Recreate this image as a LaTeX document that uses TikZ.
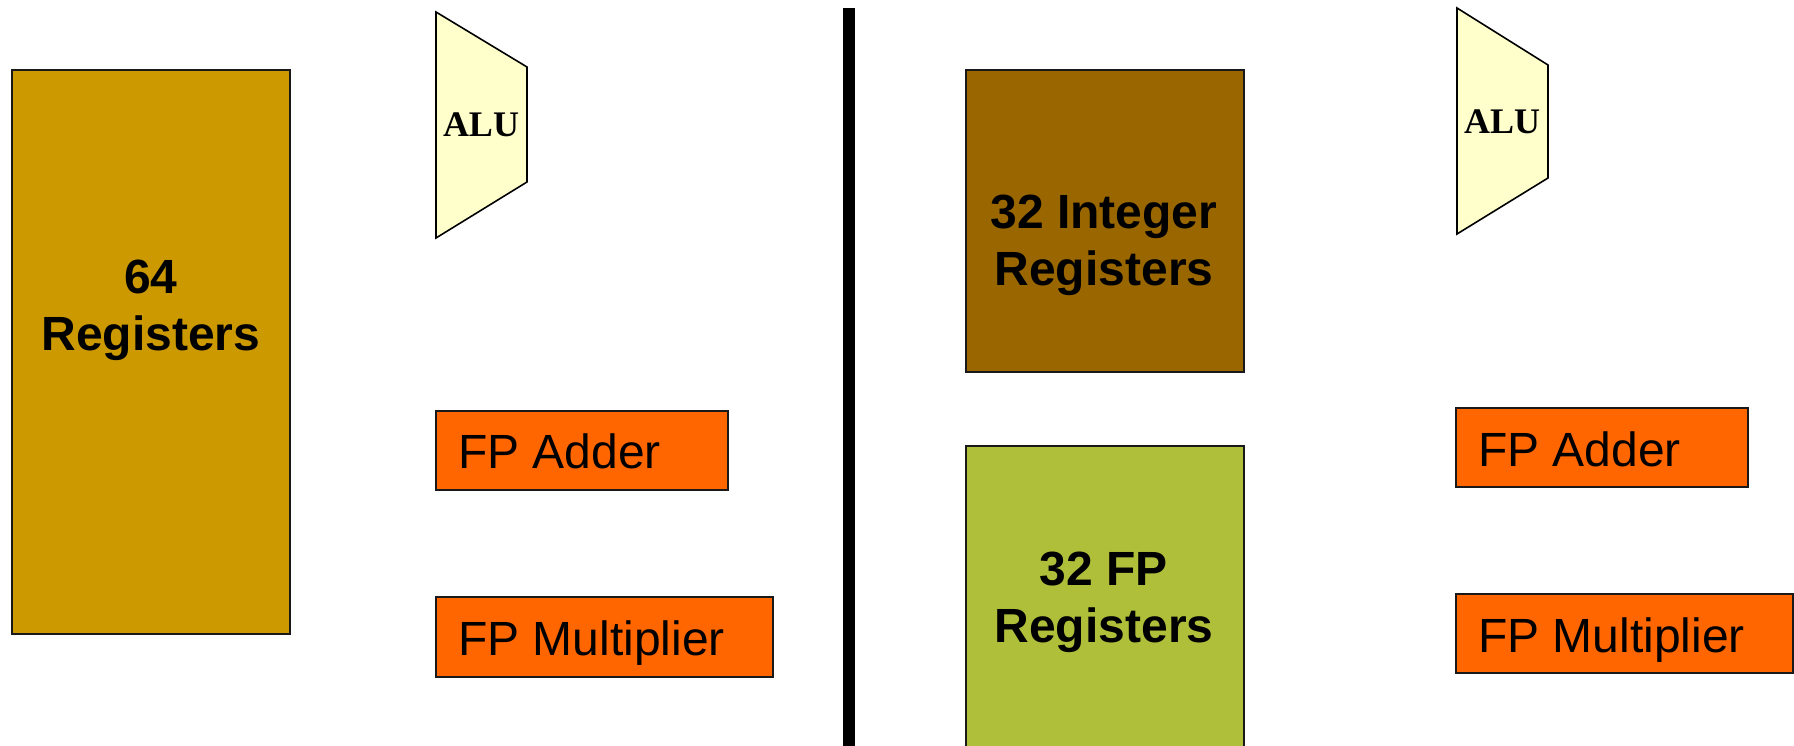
\documentclass[tikz,border=0pt]{standalone}
\usepackage{fontspec}
\setmainfont{Liberation Sans}
\newfontfamily\alufont{Liberation Serif}
\definecolor{regA}{HTML}{CC9900}
\definecolor{regInt}{HTML}{996600}
\definecolor{regFP}{HTML}{B0BF3A}
\definecolor{unitOr}{HTML}{FF6600}
\definecolor{aluY}{HTML}{FFFFCC}
\tikzset{
  box/.style={draw=black!90, line width=1.6pt, inner sep=0pt},
  regtext/.style={align=center, font=\fontsize{48}{57}\selectfont\bfseries, inner sep=0pt, anchor=base},
  unittext/.style={font=\fontsize{48}{57}\selectfont, inner sep=0pt, anchor=base west},
  alushape/.style={draw=black, line width=1.6pt, fill=aluY, line join=miter},
  alutext/.style={font=\fontsize{36}{42}\selectfont\alufont\bfseries, inner sep=0pt}
}
\begin{document}
\begin{tikzpicture}[x=1pt,y=-1pt]
\useasboundingbox (0,0) rectangle (1794,746);
\clip (0,0) rectangle (1794,746);
% left half
\node[box, fill=regA, minimum width=278pt, minimum height=564pt] (reg64) at (151,352) {};
\node[regtext] (reg64t) at (151,350) {64\\Registers};
\draw[alushape] (436,12) -- (527,67) -- (527,182) -- (436,238) -- cycle;
\node[alutext] (aluL) at (481,125) {ALU};
\node[box, fill=unitOr, minimum width=292pt, minimum height=79pt] (addL) at (582,450.5) {};
\node[unittext] (addLt) at (458,468) {FP Adder};
\node[box, fill=unitOr, minimum width=337pt, minimum height=80pt] (mulL) at (604.5,637) {};
\node[unittext] (mulLt) at (458,655) {FP Multiplier};
% divider
\fill[black] (843,8) rectangle (855,760);
% right half
\node[box, fill=regInt, minimum width=278pt, minimum height=302pt] (regInt) at (1105,221) {};
\node[regtext] (regIntt) at (1104,285) {32 Integer\\Registers};
\node[box, fill=regFP, minimum width=278pt, minimum height=330pt, anchor=north] (regFP) at (1105,445) {};
\node[regtext] (regFPt) at (1104,642) {32 FP\\Registers};
\draw[alushape] (1457,8) -- (1548,65) -- (1548,178) -- (1457,234) -- cycle;
\node[alutext] (aluR) at (1502,122) {ALU};
\node[box, fill=unitOr, minimum width=292pt, minimum height=79pt] (addR) at (1602,447.5) {};
\node[unittext] (addRt) at (1478,466) {FP Adder};
\node[box, fill=unitOr, minimum width=337pt, minimum height=79pt] (mulR) at (1624.5,633.5) {};
\node[unittext] (mulRt) at (1478,652) {FP Multiplier};
\end{tikzpicture}
\end{document}
